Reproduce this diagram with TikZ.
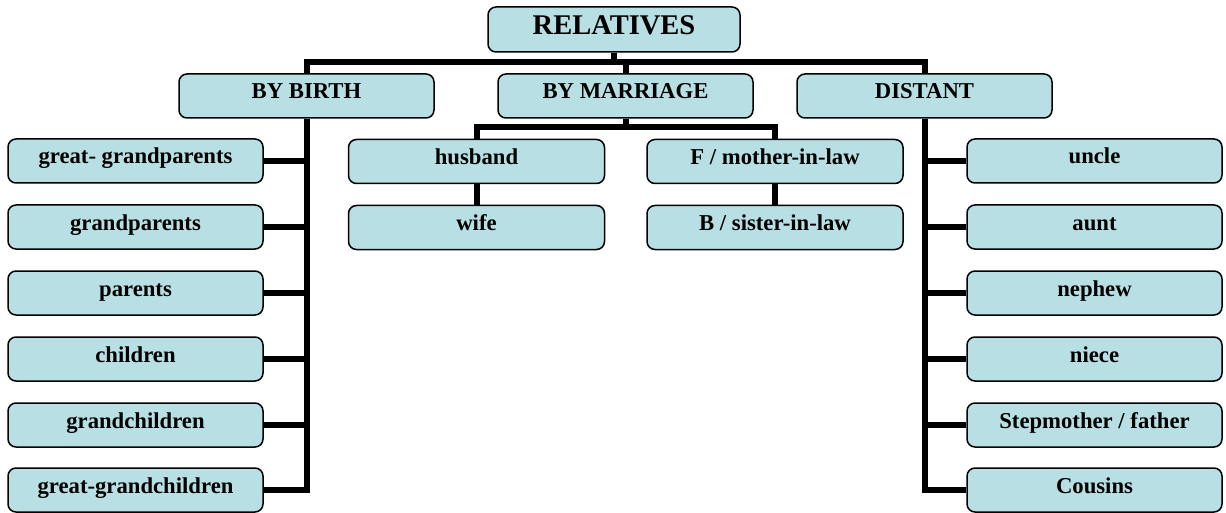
\documentclass[tikz,border=0pt]{standalone}
\usepackage{fontspec}
\setmainfont{Liberation Serif}
\usepackage{xcolor}
\usetikzlibrary{positioning}
\definecolor{kinfill}{RGB}{184,223,227}

\begin{document}
\begin{tikzpicture}[
  x=1pt,y=1pt,
  font=\bfseries\fontsize{22.7}{26}\selectfont,
  box/.style={draw,line width=1.5pt,rounded corners=8pt,fill=kinfill,inner sep=0pt,
    minimum width=255pt,text height=25pt,text depth=19pt,align=center},
  mid/.style={box,minimum width=256pt},
  top/.style={box,minimum width=252pt,text height=28pt,text depth=17pt,
    font=\bfseries\fontsize{28.5}{32}\selectfont},
  link/.style={line width=6pt}]
  \useasboundingbox (0,0) rectangle (1226,-513);
  % root and the three groups
  \node[top] (rel) at (614,-29.5) {RELATIVES};
  \node[box] (birth) at (306.5,-96) {BY BIRTH};
  \node[box] (marriage) at (625.5,-96) {BY MARRIAGE};
  \node[box] (distant) at (924.5,-96) {DISTANT};
  % by birth
  \node[box] (ggp) at (135.5,-161) {great- grandparents};
  \node[box] (gp) at (135.5,-227) {grandparents};
  \node[box] (par) at (135.5,-293) {parents};
  \node[box] (chi) at (135.5,-359) {children};
  \node[box] (gch) at (135.5,-425) {grandchildren};
  \node[box] (ggch) at (135.5,-490) {great-grandchildren};
  % by marriage
  \node[mid] (hus) at (476.5,-161.5) {husband};
  \node[mid] (wife) at (476.5,-227.5) {wife};
  \node[mid] (fml) at (775,-161.5) {F / mother-in-law};
  \node[mid] (bsl) at (775,-227.5) {B / sister-in-law};
  % distant
  \node[box] (unc) at (1094.5,-161) {uncle};
  \node[box] (aunt) at (1094.5,-227) {aunt};
  \node[box] (nep) at (1094.5,-293) {nephew};
  \node[box] (nie) at (1094.5,-359) {niece};
  \node[box] (stp) at (1094.5,-425) {Stepmother / father};
  \node[box] (cou) at (1094.5,-490) {Cousins};
  % connectors
  \coordinate (bus) at (614,-62);
  \coordinate (mbus) at (625,-127.5);
  \draw[link] (birth.north) |- (bus) -| (distant.north);
  \draw[link] (rel.south) -- (rel.south |- bus);
  \draw[link] (marriage.north) -- (marriage.north |- bus);
  \draw[link] (hus.north) |- (mbus) -| (fml.north);
  \draw[link] (marriage.south) -- (marriage.south |- mbus);
  \draw[link] (hus.south) -- (wife.north);
  \draw[link] (fml.south) -- (bsl.north);
  \draw[link] (birth.south) |- (ggch.east);
  \foreach \n in {ggp,gp,par,chi,gch}
    \draw[link] (\n.east) -- (\n.east -| birth.south);
  \draw[link] (distant.south) |- (cou.west);
  \foreach \n in {unc,aunt,nep,nie,stp}
    \draw[link] (\n.west) -- (\n.west -| distant.south);
\end{tikzpicture}
\end{document}
